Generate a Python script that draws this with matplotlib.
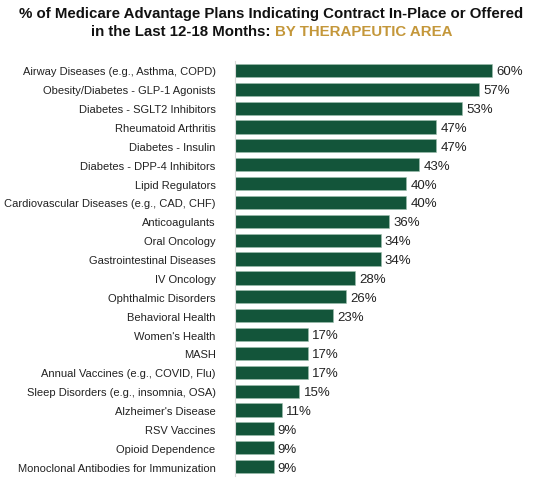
import matplotlib
matplotlib.use("Agg")
import matplotlib.pyplot as plt

categories = [
    "Airway Diseases (e.g., Asthma, COPD)",
    "Obesity/Diabetes - GLP-1 Agonists",
    "Diabetes - SGLT2 Inhibitors",
    "Rheumatoid Arthritis",
    "Diabetes - Insulin",
    "Diabetes - DPP-4 Inhibitors",
    "Lipid Regulators",
    "Cardiovascular Diseases (e.g., CAD, CHF)",
    "Anticoagulants",
    "Oral Oncology",
    "Gastrointestinal Diseases",
    "IV Oncology",
    "Ophthalmic Disorders",
    "Behavioral Health",
    "Women's Health",
    "MASH",
    "Annual Vaccines (e.g., COVID, Flu)",
    "Sleep Disorders (e.g., insomnia, OSA)",
    "Alzheimer's Disease",
    "RSV Vaccines",
    "Opioid Dependence",
    "Monoclonal Antibodies for Immunization",
]
values = [60, 57, 53, 47, 47, 43, 40, 40, 36, 34, 34, 28, 26, 23, 17, 17, 17, 15, 11, 9, 9, 9]

title_line1 = "% of Medicare Advantage Plans Indicating Contract In-Place or Offered"
title_line2a = "in the Last 12-18 Months: "
title_line2b = "BY THERAPEUTIC AREA"

green = "#13553a"
gold = "#c4973a"

plt.rcParams["font.family"] = ["Liberation Sans", "DejaVu Sans"]

W, H = 543, 485
fig = plt.figure(figsize=(W / 100, H / 100), dpi=100)
ax = fig.add_axes([235 / W, 1 - 477 / H, 300 / W, (477 - 62) / H])

y = list(range(len(categories)))
ax.barh(y, values, height=0.7, color=green, edgecolor="#9fbfae", linewidth=0.4)
for yi, v in zip(y, values):
    ax.text(v + 1.0, yi + 0.05, f"{v}%", va="center", ha="left", fontsize=9.5, color="#222222")

ax.set_yticks(y)
ax.set_yticklabels(categories, fontsize=8, color="#222222")
ax.tick_params(axis="y", length=0, pad=14)
ax.set_xlim(0, 300 / 4.28)
ax.set_ylim(len(categories) - 0.5, -0.5)
ax.set_xticks([])
for s in ["top", "right", "bottom"]:
    ax.spines[s].set_visible(False)
ax.spines["left"].set_color("#d9d9d9")
ax.spines["left"].set_linewidth(0.8)

r = fig.canvas.get_renderer()
ttl = fig.text(0.5, 1 - 14 / H, title_line1, ha="center", va="center", fontsize=12,
               fontweight="bold", color="#111111")
fs = 12 * 505 / ttl.get_window_extent(r).width
ttl.set_fontsize(fs)
t1 = fig.text(0, 1 - 32 / H, title_line2a, ha="left", va="center", fontsize=fs,
              fontweight="bold", color="#111111")
t2 = fig.text(0, 1 - 32 / H, title_line2b, ha="left", va="center", fontsize=fs,
              fontweight="bold", color=gold)
w1 = t1.get_window_extent(r).width
w2 = t2.get_window_extent(r).width
x0 = (W - w1 - w2) / 2
t1.set_x(x0 / W)
t2.set_x((x0 + w1) / W)

fig.savefig("out.png", dpi=100)
